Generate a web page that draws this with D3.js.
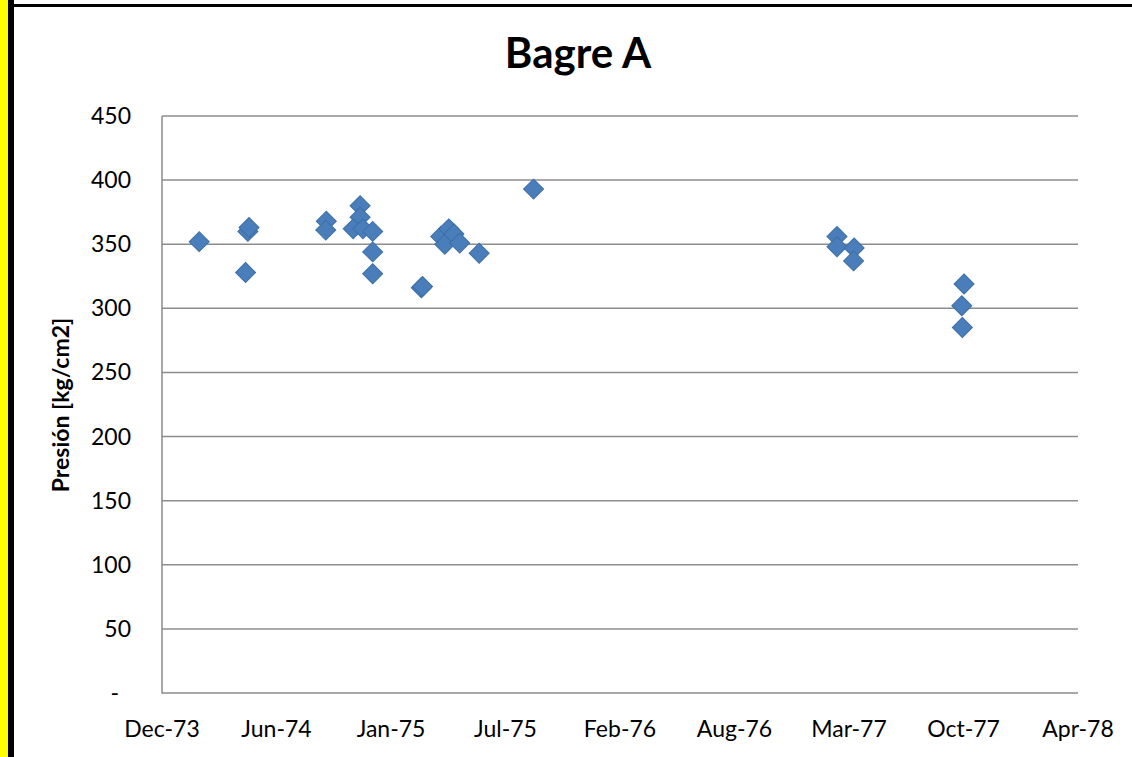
<!DOCTYPE html>
<html>
<head>
<meta charset="utf-8">
<script src="https://cdn.jsdelivr.net/npm/d3@7"></script>
<style>
  body { margin: 0; background: #fff; }
  svg { display: block; font-family: Lato, "Open Sans", sans-serif; }
</style>
</head>
<body>
<div class="c_chart"></div>
<script>
/* DATA */
const title = "Bagre A";
const yLabel = "Presión [kg/cm2]";

// measurement dates and pressure values (kg/cm2)
const dates = [
  "1974-02-05", "1974-05-01", "1974-05-03", "1974-04-27",
  "1974-09-15", "1974-09-14",
  "1974-11-13", "1974-11-13", "1974-11-01", "1974-11-18", "1974-12-05", "1974-12-05", "1974-12-05",
  "1975-02-28", "1975-03-02",
  "1975-04-03", "1975-04-10", "1975-04-17", "1975-04-26", "1975-05-06",
  "1975-06-09", "1975-09-12",
  "1977-02-23", "1977-02-23", "1977-03-25", "1977-03-24",
  "1977-10-03", "1977-09-29", "1977-09-30"
];
const values = [
  352, 360, 363, 328,
  368, 361,
  380, 371, 362, 362, 360, 344, 327,
  316, 317,
  356, 350, 362, 358, 351,
  343, 393,
  356, 348, 347, 337,
  319, 302, 285
];

const yTicks = [0, 50, 100, 150, 200, 250, 300, 350, 400, 450];
const xTickDates = ["1973-12-02", "1974-06-20", "1975-01-06", "1975-07-25",
  "1976-02-10", "1976-08-28", "1977-03-16", "1977-10-02", "1978-04-20"];
const xTickLabels = ["Dec-73", "Jun-74", "Jan-75", "Jul-75", "Feb-76",
  "Aug-76", "Mar-77", "Oct-77", "Apr-78"];

/* SVG */
const width = 1132, height = 757;
const margin = {top: 116, right: 54, bottom: 64, left: 162};

const svg = d3.select(".c_chart").append("svg")
  .attr("width", width)
  .attr("height", height);

const parse = d3.utcParse("%Y-%m-%d");

// frame: yellow strip + black border
svg.append("rect").attr("x", 0).attr("y", 0).attr("width", 8).attr("height", height).attr("fill", "#ffff00");
svg.append("rect").attr("x", 8).attr("y", 0).attr("width", 6).attr("height", height).attr("fill", "#000");
svg.append("rect").attr("x", 8).attr("y", 4).attr("width", width - 8).attr("height", 3).attr("fill", "#000");

/* SCALES */
const x = d3.scaleUtc()
  .domain([parse(xTickDates[0]), parse(xTickDates[xTickDates.length - 1])])
  .range([margin.left, width - margin.right]);

const y = d3.scaleLinear()
  .domain([0, 450])
  .range([height - margin.bottom, margin.top]);

/* GRID */
svg.append("g")
  .selectAll("line")
  .data(yTicks.slice(1))
  .join("line")
  .attr("x1", margin.left).attr("x2", width - margin.right)
  .attr("y1", d => y(d)).attr("y2", d => y(d))
  .attr("stroke", "#8c8c8c")
  .attr("stroke-width", 1.5);

// plot border (left + bottom axis lines)
svg.append("path")
  .attr("d", `M${margin.left},${margin.top}V${height - margin.bottom}H${width - margin.right}`)
  .attr("fill", "none")
  .attr("stroke", "#8c8c8c")
  .attr("stroke-width", 1.5);

/* AXES LABELS */
svg.append("g")
  .selectAll("text")
  .data(yTicks)
  .join("text")
  .attr("x", d => d === 0 ? 119 : 131)
  .attr("y", d => y(d))
  .attr("dy", "0.35em")
  .attr("text-anchor", "end")
  .attr("font-size", 23)
  .attr("fill", "#000")
  .text(d => d === 0 ? "-" : d);

svg.append("g")
  .selectAll("text")
  .data(xTickDates)
  .join("text")
  .attr("x", d => x(parse(d)))
  .attr("y", 737)
  .attr("text-anchor", "middle")
  .attr("font-size", 23)
  .attr("fill", "#000")
  .text((d, i) => xTickLabels[i]);

/* TITLE */
svg.append("text")
  .attr("x", 578)
  .attr("y", 68)
  .attr("text-anchor", "middle")
  .attr("font-size", 42)
  .attr("font-weight", "bold")
  .text(title);

svg.append("text")
  .attr("transform", "translate(69,405) rotate(-90)")
  .attr("text-anchor", "middle")
  .attr("font-size", 23)
  .attr("font-weight", "bold")
  .text(yLabel);

/* POINTS */
const pts = dates.map((d, i) => ({date: parse(d), value: values[i]}));

svg.append("g")
  .selectAll("path")
  .data(pts)
  .join("path")
  .attr("d", d3.symbol(d3.symbolSquare, 200))
  .attr("transform", d => `translate(${x(d.date)},${y(d.value)}) rotate(45)`)
  .attr("fill", "#4a7ebb")
  .attr("stroke", "#3d6ea8")
  .attr("stroke-width", 1);
</script>
</body>
</html>
